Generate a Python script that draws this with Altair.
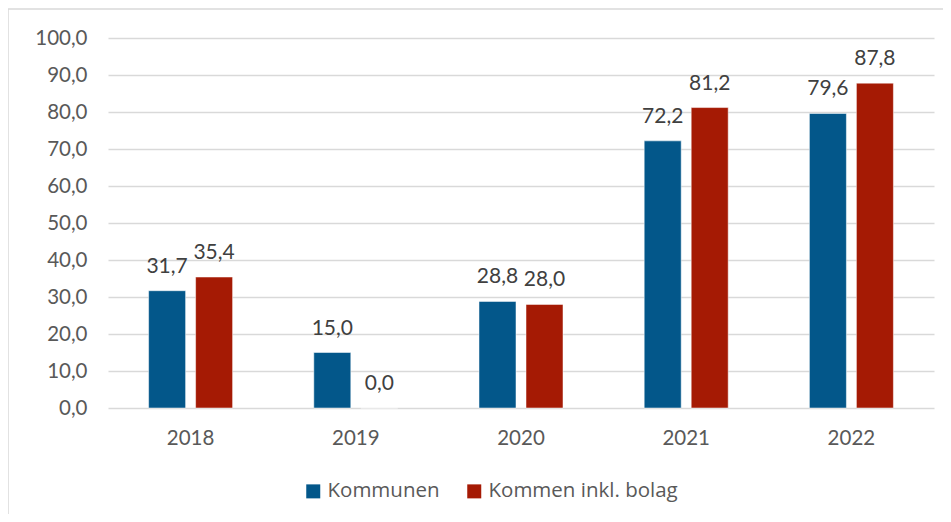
import altair as alt
import pandas as pd

years = ["2018", "2019", "2020", "2021", "2022"]
kommunen = [31.7, 15.0, 28.8, 72.2, 79.6]
inkl_bolag = [35.4, 0.0, 28.0, 81.2, 87.8]
series = ["Kommunen", "Kommen inkl. bolag"]
colors = ["#03578A", "#A51A04"]
y_ticks = [0, 10, 20, 30, 40, 50, 60, 70, 80, 90, 100]

rows = []
for i, yr in enumerate(years):
    rows.append({"year": yr, "series": series[0], "value": kommunen[i]})
    rows.append({"year": yr, "series": series[1], "value": inkl_bolag[i]})
df = pd.DataFrame(rows)
df["label"] = df["value"].map(lambda v: f"{v:.1f}".replace(".", ","))

x_enc = alt.X(
    "year:N", title=None, sort=years,
    scale=alt.Scale(paddingInner=0.4915, paddingOuter=0.24575),
    axis=alt.Axis(labelAngle=0, domain=False, ticks=False, labelPadding=20,
                  labelFontSize=20.5, labelColor="#595959", labelFont="Lato"),
)
xoff_enc = alt.XOffset("series:N", sort=series,
                       scale=alt.Scale(paddingInner=10 / 47, paddingOuter=0))
y_enc = alt.Y(
    "value:Q", title=None,
    scale=alt.Scale(domain=[0, 100], nice=False),
    axis=alt.Axis(values=y_ticks, domain=False, ticks=False, labelPadding=21,
                  labelExpr="replace(format(datum.value, '.1f'), '.', ',')",
                  labelFontSize=20.5, labelColor="#595959", labelFont="Lato",
                  gridColor="#d9d9d9", gridWidth=1.3),
)

bars = alt.Chart(df).mark_bar(stroke="white", strokeWidth=0.5).encode(
    x=x_enc, xOffset=xoff_enc, y=y_enc,
    color=alt.Color("series:N", sort=series, title=None,
                    scale=alt.Scale(domain=series, range=colors),
                    legend=alt.Legend(orient="none", legendX=195, legendY=443,
                                      direction="horizontal", symbolType="square",
                                      symbolSize=196, symbolStrokeWidth=0,
                                      labelFontSize=20.5, labelColor="#595959",
                                      labelFont="Open Sans", labelOffset=4,
                                      labelLimit=0, columnPadding=24)),
)

labels = alt.Chart(df).mark_text(
    baseline="alphabetic", dy=-18, fontSize=21, color="#404040", font="Lato"
).encode(
    x=x_enc, xOffset=xoff_enc, y=y_enc, text="label:N"
)

frame_df = pd.DataFrame({"a": [0]})
left_line = alt.Chart(frame_df).mark_rule(color="#d9d9d9", strokeWidth=1.5).encode(
    x=alt.value(-100), y=alt.value(-29), y2=alt.value(480)
)
top_line = alt.Chart(frame_df).mark_rule(color="#d9d9d9", strokeWidth=1.5).encode(
    x=alt.value(-100), x2=alt.value(840), y=alt.value(-29)
)

chart = alt.layer(bars, labels, left_line, top_line).properties(
    width=826, height=370,
    autosize=alt.AutoSizeParams(type="none"),
    padding={"left": 100, "top": 30, "right": 9, "bottom": 106},
).configure_view(stroke=None)

chart.save("out.html", embed_options={"renderer": "svg", "actions": False})
